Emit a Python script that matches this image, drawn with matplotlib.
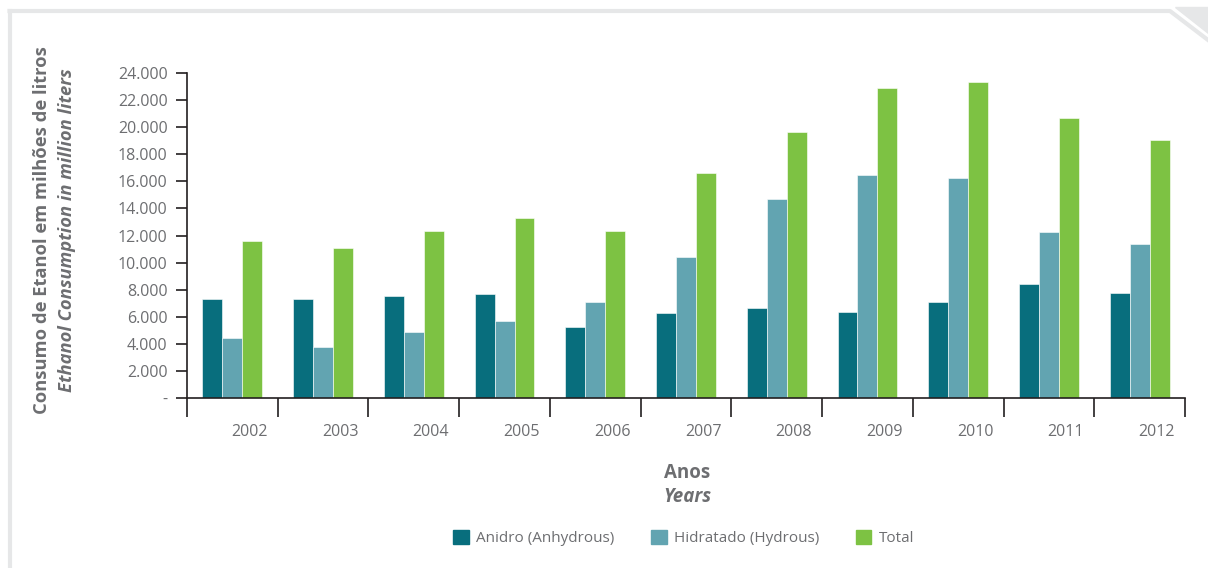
import matplotlib
matplotlib.use("Agg")
import matplotlib.pyplot as plt
import matplotlib.transforms as mtransforms
from matplotlib.lines import Line2D
from matplotlib.patches import Polygon, Patch
import numpy as np

years = ["2002", "2003", "2004", "2005", "2006", "2007", "2008", "2009", "2010", "2011", "2012"]
anidro = [7300, 7300, 7500, 7700, 5250, 6250, 6650, 6350, 7100, 8450, 7750]
hidratado = [4400, 3800, 4850, 5700, 7100, 10400, 14700, 16450, 16250, 12250, 11400]
total = [11600, 11050, 12300, 13300, 12350, 16600, 19650, 22900, 23350, 20700, 19050]
yticks = [0, 2000, 4000, 6000, 8000, 10000, 12000, 14000, 16000, 18000, 20000, 22000, 24000]

c_dark = "#086e7d"
c_light = "#62a4b1"
c_green = "#7dc243"
c_text = "#6d6e71"
c_frame = "#e6e7e8"

plt.rcParams["font.family"] = ["Open Sans", "DejaVu Sans"]

fig = plt.figure(figsize=(12.08, 5.68), dpi=100)
ax = fig.add_axes([187 / 1208, 1 - 398 / 568, (1185 - 187) / 1208, (398 - 73) / 568])

x = np.arange(len(years))
w = 0.22
for off, vals, col, lab in [(-w, anidro, c_dark, "Anidro (Anhydrous)"),
                            (0, hidratado, c_light, "Hidratado (Hydrous)"),
                            (w, total, c_green, "Total")]:
    ax.bar(x + off, vals, width=w, color=col, edgecolor="white", linewidth=0.4, label=lab)

ax.set_xlim(-0.5, len(years) - 0.5)
ax.set_ylim(0, 24000)
ax.set_yticks(yticks)
ax.set_yticklabels(["-" if v == 0 else f"{v:,}".replace(",", ".") for v in yticks])
ax.set_xticks(x)
ax.set_xticklabels(years)
ax.set_xticks(np.arange(len(years) + 1) - 0.5, minor=True)
ax.tick_params(axis="x", which="major", length=0, pad=19, labelsize=11.5, labelcolor=c_text)
ax.tick_params(axis="x", which="minor", length=14, width=1.2, color="#231f20", direction="out")
ax.tick_params(axis="y", length=8, width=1.2, color="#231f20", labelsize=11.5, labelcolor=c_text, pad=6)
shift = mtransforms.ScaledTranslation(17 / 100, 0, fig.dpi_scale_trans)
for lbl in ax.get_xticklabels():
    lbl.set_transform(lbl.get_transform() + shift)

for s in ["top", "right"]:
    ax.spines[s].set_visible(False)
for s in ["left", "bottom"]:
    ax.spines[s].set_color("#231f20")
    ax.spines[s].set_linewidth(1.2)

# y label, two lines
fig.text(42 / 1208, 1 - 230 / 568, "Consumo de Etanol em milhões de litros", rotation=90,
         ha="center", va="center", fontsize=13.2, fontweight="bold", color=c_text)
fig.text(67 / 1208, 1 - 230 / 568, "Ethanol Consumption in million liters", rotation=90,
         ha="center", va="center", fontsize=13.2, fontweight="bold", style="italic", color=c_text)

# x label
fig.text(687 / 1208, 1 - 473 / 568, "Anos", ha="center", va="center",
         fontsize=13.5, fontweight="bold", color=c_text)
fig.text(687 / 1208, 1 - 497 / 568, "Years", ha="center", va="center",
         fontsize=13.5, fontweight="bold", style="italic", color=c_text)

handles = [Patch(color=c_dark), Patch(color=c_light), Patch(color=c_green)]
fig.legend(handles, ["Anidro (Anhydrous)", "Hidratado (Hydrous)", "Total"],
           loc="center", bbox_to_anchor=(684 / 1208, 1 - 538 / 568), ncol=3, frameon=False,
           fontsize=11, labelcolor=c_text, handlelength=1.0, handleheight=1.1,
           columnspacing=2.4, handletextpad=0.5)

# page frame with folded corner
fig.add_artist(Line2D([9.5 / 1208, 9.5 / 1208], [0, 1 - 11 / 568], color=c_frame, lw=3,
                      transform=fig.transFigure))
fig.add_artist(Line2D([9.5 / 1208, 1170 / 1208, 1208 / 1208], [1 - 11 / 568, 1 - 11 / 568, 1 - 40 / 568],
                      color=c_frame, lw=3, transform=fig.transFigure))
fig.add_artist(Polygon([[1175 / 1208, 1 - 7 / 568], [1, 1 - 7 / 568], [1, 1 - 33 / 568]],
                       closed=True, color=c_frame, transform=fig.transFigure))

fig.savefig("out.png", dpi=100, facecolor="white")
